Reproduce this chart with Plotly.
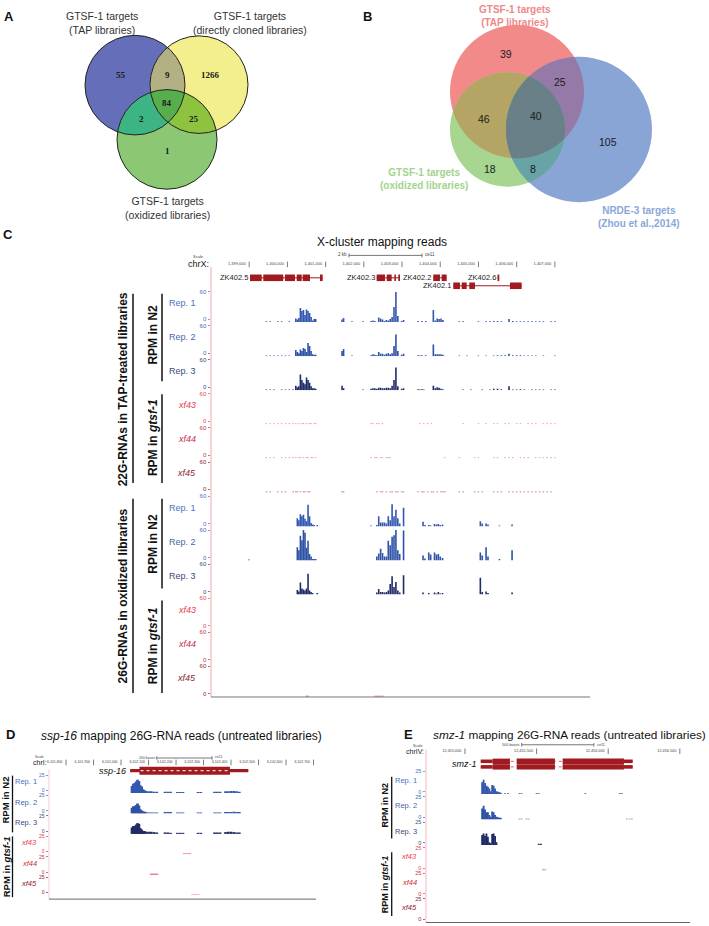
import numpy as np
import plotly.graph_objects as go

W, H = 709, 926
FONT = "Liberation Sans, Arial, Helvetica, sans-serif"
SERIF = "Liberation Serif, Times New Roman, serif"

# ======================= DATA =======================
# Venn region order: only1, only2, only3, 1&2, 1&3, 2&3, 1&2&3
A_SET_LABELS = ["GTSF-1 targets<br>(TAP libraries)",
                "GTSF-1 targets<br>(directly cloned libraries)",
                "GTSF-1 targets<br>(oxidized libraries)"]
A_COUNTS = [55, 1266, 1, 9, 2, 25, 84]

B_SET_LABELS = ["GTSF-1 targets<br>(TAP libraries)",
                "GTSF-1 targets<br>(oxidized libraries)",
                "NRDE-3 targets<br>(Zhou et al.,2014)"]
B_COUNTS = [39, 18, 105, 46, 25, 8, 40]

TRACK_NAMES = ["Rep. 1", "Rep. 2", "Rep. 3", "xf43", "xf44", "xf45"]

# ---- Panel C (chrX, bp) ----
C_RULER = [1399000, 1400000, 1401000, 1402000, 1403000, 1404000, 1405000, 1406000, 1407000]
C_GENES = ["ZK402.5", "ZK402.3", "ZK402.2", "ZK402.6", "ZK402.1"]
C_GENE_EXONS = [
    [(1399021, 1399327), (1399369, 1399892), (1399937, 1400198), (1400243, 1400374), (1400400, 1400591), (1400853, 1400923)],
    [(1402336, 1402554), (1402598, 1402729), (1402800, 1402841), (1402902, 1402946)],
    [(1403818, 1403993), (1404037, 1404168)],
    [(1405500, 1405545)],
    [(1404341, 1404516), (1404561, 1404692), (1404760, 1404909), (1405825, 1406131)],
]
C_GENE_ROW = [0, 0, 0, 0, 1]

C22_POS = [1399450, 1399550, 1399650, 1399750, 1399850, 1399950, 1400050, 1400150,
           1400220, 1400260, 1400300, 1400340, 1400380, 1400420, 1400460, 1400500, 1400540, 1400580,
           1400620, 1400660, 1400700, 1400740, 1400780,
           1401430, 1401470, 1401690, 1401980,
           1402190, 1402240, 1402290, 1402340, 1402390, 1402440, 1402490, 1402540, 1402590, 1402640,
           1402690, 1402740, 1402790, 1402840, 1402890, 1402940, 1402990, 1403040,
           1403420, 1403470, 1403520, 1403570, 1403620, 1403670, 1403720, 1403770, 1403820, 1403870,
           1403920, 1403970, 1404020, 1404070, 1404120,
           1404500, 1404600, 1404700, 1404800, 1404900, 1405000, 1405100, 1405200, 1405300, 1405400,
           1405500, 1405600, 1405700, 1405800, 1405900, 1406000, 1406100, 1406200, 1406300, 1406400,
           1406500, 1406600, 1406700, 1406800, 1406900, 1407000]
C22_REP1 = [1.5, 1.5, 0, 1.5, 1.5, 0, 1.5, 0,
            7, 5, 8, 28, 22, 24, 14, 25, 22, 18, 10, 3, 6, 6, 0,
            5, 8, 1.5, 1.5,
            2, 3, 2, 0, 9, 7, 5, 2, 4, 3, 6, 10, 30, 60, 12, 0, 2, 4,
            2, 0, 2, 0, 2, 0, 0, 0, 24, 3, 7, 6, 7, 4, 0,
            1.5, 1.5, 0, 0, 0, 1.5, 0, 1.5, 1.5, 2, 2, 1.5, 0, 6, 2, 1.5, 1.5, 1.5, 1.5, 1.5, 1.5, 1.5, 1.5, 0, 1.5, 1.5]
C22_REP2 = [1.5, 1.5, 1.5, 1.5, 1.5, 1.5, 1.5, 0,
            12, 8, 6, 13, 10, 16, 14, 8, 26, 20, 10, 4, 3, 3, 0,
            10, 14, 1.5, 0,
            2, 4, 3, 2, 8, 5, 5, 3, 5, 6, 4, 6, 20, 43, 10, 0, 3, 5,
            2, 1.5, 2, 0, 2, 0, 0, 0, 23, 4, 4, 4, 4, 3, 0,
            1.5, 0, 1.5, 0, 0, 1.5, 0, 1.5, 0, 1.5, 2, 2, 2, 5, 2, 2, 2, 1.5, 1.5, 1.5, 1.5, 0, 1.5, 0, 0, 1.5]
C22_REP3 = [1.5, 1.5, 1.5, 0, 1.5, 1.5, 1.5, 1.5,
            9, 6, 8, 31, 20, 15, 12, 25, 20, 15, 8, 4, 4, 3, 0,
            9, 4, 0, 1.5,
            3, 4, 4, 3, 5, 5, 4, 4, 5, 5, 4, 9, 20, 45, 8, 0, 3, 4,
            2, 1.5, 2, 1.5, 0, 0, 0, 0, 9, 4, 6, 5, 3, 2, 0,
            0, 1.5, 0, 1.5, 0, 0, 1.5, 0, 1.5, 3, 3, 2, 0, 8, 1.5, 1.5, 2, 1.5, 0, 1.5, 1.5, 1.5, 1.5, 0, 1.5, 1.5]
C22_XF43 = [1.5, 1.5, 1.5, 1.5, 1.5, 1.5, 1.5, 1.5,
            1.5, 0, 1.5, 0, 1.5, 1.5, 0, 1.5, 0, 1.5, 1.5, 0, 1.5, 1.5, 0,
            0, 0, 0, 0,
            1.5, 1.5, 0, 1.5, 1.5, 0, 1.5, 0, 0, 0, 0, 0, 0, 0, 0, 0, 0, 0,
            0, 1.5, 0, 1.5, 0, 1.5, 0, 1.5, 0, 0, 0, 0, 0, 0, 0,
            0, 1.5, 0, 0, 0, 1.5, 0, 1.5, 0, 1.5, 1.5, 0, 1.5, 1.5, 0, 1.5, 1.5, 0, 1.5, 1.5, 1.5, 0, 1.5, 1.5, 1.5, 1.5]
C22_XF44 = [1.5, 1.5, 1.5, 0, 1.5, 1.5, 1.5, 1.5,
            1.5, 0, 1.5, 1.5, 0, 1.5, 0, 1.5, 1.5, 0, 1.5, 1.5, 0, 1.5, 0,
            0, 0, 0, 0,
            1.5, 0, 1.5, 1.5, 0, 1.5, 1.5, 0, 1.5, 1.5, 1.5, 0, 0, 0, 0, 0, 0, 0,
            0, 0, 0, 0, 0, 0, 0, 0, 0, 0, 0, 0, 0, 0, 1.5,
            1.5, 0, 0, 0, 1.5, 1.5, 0, 0, 0, 1.5, 1.5, 0, 1.5, 1.5, 1.5, 0, 1.5, 1.5, 1.5, 0, 1.5, 1.5, 1.5, 1.5, 1.5, 1.5]
C22_XF45 = [1.5, 1.5, 0, 1.5, 1.5, 1.5, 0, 1.5,
            1.5, 1.5, 0, 1.5, 0, 1.5, 1.5, 0, 1.5, 1.5, 0, 0, 0, 0, 0,
            1.5, 1.5, 0, 0,
            0, 0, 0, 1.5, 0, 1.5, 1.5, 0, 1.5, 0, 1.5, 1.5, 0, 1.5, 1.5, 0, 1.5, 1.5,
            1.5, 0, 1.5, 1.5, 0, 1.5, 0, 1.5, 1.5, 0, 1.5, 0, 1.5, 1.5, 1.5,
            1.5, 1.5, 0, 0, 1.5, 1.5, 1.5, 0, 0, 1.5, 1.5, 1.5, 0, 1.5, 1.5, 1.5, 1.5, 1.5, 1.5, 1.5, 1.5, 1.5, 1.5, 1.5, 1.5, 0]

C26_POS = [1398990,
           1400260, 1400300, 1400340, 1400380, 1400420, 1400460, 1400500, 1400540, 1400580, 1400620,
           1400660, 1400700, 1400740, 1400780,
           1402190, 1402240, 1402290, 1402340, 1402390, 1402440, 1402490, 1402540, 1402590, 1402640,
           1402690, 1402740, 1402790, 1402840, 1402890, 1402940, 1402990, 1403040,
           1403550, 1403600, 1403700, 1403750, 1403850, 1403900, 1403950, 1404000, 1404060,
           1405050, 1405100, 1405200, 1405250, 1405550, 1405880]
C26_REP1 = [0,
            16, 12, 24, 20, 23, 15, 10, 43, 20, 7, 4, 3, 0, 3,
            2, 0, 0, 3, 20, 8, 8, 8, 6, 20, 12, 44, 20, 33, 16, 6, 0, 37,
            9, 3, 3, 2, 5, 4, 5, 3, 4,
            10, 6, 6, 4, 2, 4]
C26_REP2 = [2,
            26, 20, 49, 40, 60, 55, 25, 39, 13, 8, 3, 3, 3, 0,
            0, 0, 0, 8, 14, 23, 15, 8, 8, 39, 30, 47, 50, 60, 20, 13, 0, 59,
            10, 4, 16, 12, 16, 12, 13, 8, 5,
            16, 10, 26, 8, 3, 20]
C26_REP3 = [0,
            9, 6, 24, 12, 10, 8, 12, 41, 8, 5, 3, 0, 0, 3,
            0, 0, 0, 4, 11, 5, 5, 4, 5, 8, 21, 36, 15, 25, 8, 4, 0, 38,
            4, 0, 3, 0, 4, 2, 5, 2, 3,
            33, 5, 6, 3, 0, 4]
C26_MUT_POS = [1400500, 1400540, 1402290, 1402340, 1402390, 1402440, 1402490]
C26_XF43 = [0, 0, 0, 0, 0, 0, 0]
C26_XF44 = [0, 0, 0, 0, 0, 0, 0]
C26_XF45 = [2, 2, 2, 2, 2, 2, 2]

# ---- Panel D (chrI, bp) ----
D_RULER = [6101800, 6101900, 6102000, 6102100, 6102200, 6102300, 6102400, 6102500, 6102600, 6102700]
D_GENE = "ssp-16"
D_GENE_UTR = (6102033, 6102463)
D_GENE_CDS = (6102067, 6102396)
D_POS = [6102040, 6102045, 6102050, 6102055, 6102060, 6102065, 6102070, 6102075, 6102080, 6102085, 6102090,
         6102100, 6102110, 6102120, 6102130, 6102160, 6102170, 6102180, 6102205, 6102215, 6102225,
         6102280, 6102290, 6102340, 6102350, 6102360, 6102380, 6102390, 6102400, 6102410, 6102420, 6102430]
D_REP1 = [10, 13, 14, 16, 18.5, 17, 11, 9, 5.5, 4, 3,
          2.5, 2.5, 2, 2, 2, 2, 2, 1.5, 1.5, 1.5, 1.5, 1.5, 2, 2, 2, 2.5, 2.5, 3, 3, 2.5, 2]
D_REP2 = [8, 10, 10, 12, 14, 11, 6, 4, 3, 2.5, 2,
          1.5, 1.5, 1.5, 1.5, 2, 2, 2, 1.5, 1.5, 1.5, 1.5, 1.5, 1.5, 1.5, 1.5, 2, 2, 2, 2.5, 2, 2]
D_REP3 = [9, 11, 11, 13, 15, 14, 8, 6, 4, 4, 3,
          3, 3, 2.5, 2, 2, 2, 1.5, 1.5, 1.5, 1.5, 1.5, 1.5, 2, 2, 2, 2.5, 3, 3, 2.5, 2, 2]
D_MUT_POS = [6102110, 6102120, 6102130, 6102230, 6102240, 6102250, 6102260, 6102270, 6102280]
D_XF43 = [0, 0, 0, 1.5, 1.5, 1.5, 0, 0, 0]
D_XF44 = [1.5, 1.5, 1.5, 0, 0, 0, 0, 0, 0]
D_XF45 = [0, 0, 0, 0, 0, 0, 1.2, 1.2, 1.2]

# ---- Panel E (chrIV, bp) ----
E_RULER = [12455000, 12455500, 12456000, 12456500]
E_GENE = "smz-1"
E_GENE_UTR5 = (12455110, 12455193)
E_GENE_EXONS = [(12455193, 12455314), (12455361, 12455628), (12455682, 12456110)]
E_GENE_UTR3 = (12456110, 12456171)
E_POS = [12455120, 12455130, 12455140, 12455150, 12455160, 12455170, 12455180, 12455190, 12455200,
         12455210, 12455220, 12455230, 12455240, 12455250,
         12455280, 12455300, 12455380, 12455395, 12455430, 12455445, 12455500, 12455515, 12455530,
         12455840, 12456080, 12456095, 12456130, 12456150, 12456165]
E_REP1 = [13, 15.6, 12, 9, 8, 6, 3, 9.8, 9, 6, 3, 2.5, 2, 1.5,
          1, 1, 1, 1, 0, 0, 1, 1, 0, 1, 1, 1, 0, 0, 0]
E_REP2 = [12, 15, 11, 8, 8, 5, 3, 8.7, 8, 5, 3, 2.5, 2, 2,
          0, 0, 1, 1, 1, 1, 0, 0, 0, 0, 0, 0, 1, 1, 1]
E_REP3 = [11, 12.7, 10, 12.7, 9, 3, 2, 12, 12.7, 10, 3, 0, 0, 0,
          0, 0, 0, 0, 0, 0, 0, 1.5, 1.5, 0, 0, 0, 0, 0, 0]
E_MUT_POS = [12455545, 12455560]
E_XF43 = [1.5, 1.5]
E_XF44 = [0, 0]
E_XF45 = [0, 0]

# ======================= STYLE =======================
REP_BAR = ["#3458b0", "#2e52a6", "#1f2c68"]
REP_TXT = ["#4c72c2", "#4a66a6", "#3d4a7a"]
MUT_TXT = ["#e8404c", "#c8303c", "#8e2230"]
MUT_BAR = ["#e8606e", "#d45a68", "#c0505e"]
GENE_COL = "#a01a1f"
AXIS_PINK = "#f2a7ad"

fig = go.Figure()
shapes, annotations = [], []
layout = dict(width=W, height=H, autosize=False,
              margin=dict(l=0, r=0, t=0, b=0, pad=0),
              paper_bgcolor="white", plot_bgcolor="rgba(0,0,0,0)",
              showlegend=False, font=dict(family=FONT, color="#222"))
layout["xaxis"] = dict(domain=[0, 1], range=[0, W], visible=False, fixedrange=True)
layout["yaxis"] = dict(domain=[0, 1], range=[H, 0], visible=False, fixedrange=True)
axn = [1]


def new_axes(xdom, ydom, xrange, yrange, ycfg=None):
    axn[0] += 1
    n = axn[0]
    layout[f"xaxis{n}"] = dict(domain=[xdom[0] / W, xdom[1] / W], range=xrange,
                               anchor=f"y{n}", visible=False, fixedrange=True)
    yc = dict(domain=[1 - ydom[1] / H, 1 - ydom[0] / H], range=yrange, anchor=f"x{n}",
              fixedrange=True, showgrid=False, zeroline=False, showline=False)
    if ycfg:
        yc.update(ycfg)
    else:
        yc["visible"] = False
    layout[f"yaxis{n}"] = yc
    return f"x{n}", f"y{n}"


def ann(x, y, text, size, color="#222", xanchor="center", yanchor="middle", angle=0,
        family=FONT, xref="x", yref="y", xshift=0):
    annotations.append(dict(x=x, y=y, text=text, xref=xref, yref=yref, showarrow=False,
                            xanchor=xanchor, yanchor=yanchor, textangle=angle, xshift=xshift,
                            font=dict(size=size, color=color, family=family), borderpad=0))


def line(x0, y0, x1, y1, color, width, xref="x", yref="y", dash=None):
    ln = dict(color=color, width=width)
    if dash:
        ln["dash"] = dash
    shapes.append(dict(type="line", x0=x0, y0=y0, x1=x1, y1=y1, xref=xref, yref=yref, line=ln))


def rect(x0, y0, x1, y1, color, xref="x", yref="y"):
    shapes.append(dict(type="rect", x0=x0, y0=y0, x1=x1, y1=y1, xref=xref, yref=yref,
                       fillcolor=color, line=dict(width=0)))


def region_path(circles, idx):
    pts = []
    for i in idx:
        cx, cy, r = circles[i]
        t = np.linspace(0, 2 * np.pi, 721)
        x, y = cx + r * np.cos(t), cy + r * np.sin(t)
        m = np.ones_like(x, dtype=bool)
        for j in idx:
            if j != i:
                c2x, c2y, r2 = circles[j]
                m &= (x - c2x) ** 2 + (y - c2y) ** 2 <= r2 ** 2 + 1e-6
        pts.append(np.c_[x[m], y[m]])
    P = np.vstack(pts)
    c = P.mean(axis=0)
    P = P[np.argsort(np.arctan2(P[:, 1] - c[1], P[:, 0] - c[0]))]
    return "M " + " L ".join(f"{a:.2f},{b:.2f}" for a, b in P) + " Z"


def venn(circles, cols, counts, num_pos, outline, nfont, nsize, ncolor, bold):
    for (cx, cy, r), col in zip(circles, cols[:3]):
        shapes.append(dict(type="circle", x0=cx - r, x1=cx + r, y0=cy - r, y1=cy + r,
                           xref="x", yref="y", fillcolor=col, line=dict(width=0)))
    for idx, col in zip([(0, 1), (0, 2), (1, 2), (0, 1, 2)], cols[3:]):
        shapes.append(dict(type="path", path=region_path(circles, idx), xref="x", yref="y",
                           fillcolor=col, line=dict(width=0)))
    if outline:
        for (cx, cy, r) in circles:
            shapes.append(dict(type="circle", x0=cx - r, x1=cx + r, y0=cy - r, y1=cy + r,
                               xref="x", yref="y", fillcolor="rgba(0,0,0,0)",
                               line=dict(width=1, color="#222")))
    for cnt, (x, y) in zip(counts, num_pos):
        t = f"<b>{cnt}</b>" if bold else str(cnt)
        ann(x, y, t, nsize, ncolor, family=nfont)


# ======================= PANEL A =======================
A_CIRCLES = [(135, 82.5, 50), (199, 82, 49), (167, 137, 50)]
A_COLS = ["#646eb9", "#f2ef8c", "#8cc873", "#b3b083", "#3db483", "#8dc33e", "#58ae4d"]
A_NUM_POS = [(121, 72), (210, 72), (167, 149), (167, 72), (141, 117), (194, 116), (167, 100)]
venn(A_CIRCLES, A_COLS, A_COUNTS, A_NUM_POS, True, SERIF, 9, "#1a1a1a", True)
for lab, (x, y) in zip(A_SET_LABELS, [(102, 20), (250, 20), (167, 206)]):
    ann(x, y, lab, 10.5, "#333")
ann(9, 14, "<b>A</b>", 13, "#111")

# ======================= PANEL B =======================
B_CIRCLES = [(517, 89, 67), (507.5, 127, 57.5), (579, 127, 73)]
B_COLS = ["#f28a8a", "#a6d690", "#88a5d6", "#b5a564", "#957aa8", "#68a3a6", "#6a8088"]
B_NUM_POS = [(506, 51), (490, 167), (608, 140), (484, 116), (560, 79), (533, 167), (536, 113)]
venn(B_CIRCLES, B_COLS, B_COUNTS, B_NUM_POS, False, FONT, 10.5, "#1a1a1a", False)
for lab, (x, y), col in zip(B_SET_LABELS, [(515, 13), (424, 177), (639, 215)],
                            ["#f08888", "#a3d38d", "#8aa8d8"]):
    ann(x, y, f"<b>{lab.replace('<br>', '</b><br><b>')}</b>", 10, col)
ann(367, 14, "<b>B</b>", 13, "#111")


# ======================= TRACK PANELS =======================
def track_panel(xdom, xrange, tops, height, ymax, zero_frac, series, names_x, lab_off,
                lab_size, tick_size):
    for i, (pos, vals, bcol, tcol, italic, bw) in enumerate(series):
        top = tops[i]
        ycfg = dict(visible=True, tickmode="array", tickvals=[ymax * zero_frac, ymax],
                    ticktext=["0", str(ymax)], ticks="outside", ticklen=2.5, tickwidth=0.7,
                    tickcolor=tcol, tickfont=dict(size=tick_size, color=tcol, family=FONT),
                    showticklabels=True)
        xa, ya = new_axes(xdom, (top, top + height), xrange, [0, ymax], ycfg)
        fig.add_trace(go.Bar(x=pos, y=vals, width=bw, xaxis=xa, yaxis=ya,
                             marker=dict(color=bcol, line=dict(width=0)),
                             hoverinfo="skip", showlegend=False))
        name = TRACK_NAMES[i]
        ann(names_x, top + lab_off, f"<i>{name}</i>" if italic else name, lab_size, tcol,
            xanchor="right")


def header_axes(xdom, xrange):
    return new_axes(xdom, (0, H), xrange, [H, 0])


def ruler(xa, ya, ticks, y, size, color="#444"):
    fig.add_trace(go.Scatter(x=ticks, y=[y] * len(ticks), mode="markers+text",
                             text=[f"{t:,}" for t in ticks], textposition="middle left",
                             textfont=dict(size=size, color=color, family=FONT),
                             marker=dict(symbol="line-ns", size=4, line=dict(width=0.7, color=color)),
                             xaxis=xa, yaxis=ya, hoverinfo="skip", showlegend=False, cliponaxis=False))


# ---------------- Panel C ----------------
C_XDOM = (211, 590)
C_XRANGE = [1398000, 1407920]
C_TOPS = [290 + 34.2 * i for i in range(12)]
ann(8, 232, "<b>C</b>", 13, "#111")
ann(382, 240, "X-cluster mapping reads", 12, "#111")
cx_, cy_ = header_axes(C_XDOM, C_XRANGE)
ruler(cx_, cy_, C_RULER, 262.5, 4)
ann(210, 262.5, "chrX:", 9, "#222", xanchor="right")
ann(205, 255, "Scale", 4, "#444", xanchor="right")
line(1401611, 253.5, 1403522, 253.5, "#555", 0.8, xref=cx_)
line(1401611, 251.5, 1401611, 255.5, "#555", 0.8, xref=cx_)
line(1403522, 251.5, 1403522, 255.5, "#555", 0.8, xref=cx_)
ann(1401611, 253, "2 kb", 4.5, "#444", xanchor="right", xref=cx_, xshift=-1)
ann(1403522, 252.5, "ce11", 4.5, "#444", xanchor="left", xref=cx_, xshift=2)
ROW_Y = [276, 284]
for name, exons, row in zip(C_GENES, C_GENE_EXONS, C_GENE_ROW):
    y = ROW_Y[row]
    line(exons[0][0], y, exons[-1][1], y, GENE_COL, 1, xref=cx_)
    for s, e in exons:
        rect(s, y - 3.3, e, y + 3.3, GENE_COL, xref=cx_)
    ann(exons[0][0], y, name, 7.5, "#222", xanchor="right", xref=cx_, xshift=-1)

c_series = [
    (C22_POS, C22_REP1, REP_BAR[0], REP_TXT[0], False, 42),
    (C22_POS, C22_REP2, REP_BAR[1], REP_TXT[1], False, 42),
    (C22_POS, C22_REP3, REP_BAR[2], REP_TXT[2], False, 42),
    (C22_POS, C22_XF43, MUT_BAR[0], MUT_TXT[0], True, 40),
    (C22_POS, C22_XF44, MUT_BAR[1], MUT_TXT[1], True, 40),
    (C22_POS, C22_XF45, MUT_BAR[2], MUT_TXT[2], True, 40),
]
track_panel(C_XDOM, C_XRANGE, C_TOPS[:6], 30.5, 60, 0.1, c_series, 197, 11.5, 9, 6)
c_series2 = [
    (C26_POS, C26_REP1, REP_BAR[0], REP_TXT[0], False, 42),
    (C26_POS, C26_REP2, REP_BAR[1], REP_TXT[1], False, 42),
    (C26_POS, C26_REP3, REP_BAR[2], REP_TXT[2], False, 42),
    (C26_MUT_POS, C26_XF43, "#d05060", MUT_TXT[0], True, 40),
    (C26_MUT_POS, C26_XF44, "#d05060", MUT_TXT[1], True, 40),
    (C26_MUT_POS, C26_XF45, "#c04858", MUT_TXT[2], True, 40),
]
track_panel(C_XDOM, C_XRANGE, C_TOPS[6:], 30.5, 60, 0.1, c_series2, 197, 11.5, 9, 6)
line(211, 265, 211, 697, AXIS_PINK, 1)
line(211, 697, 590, 697, "#777", 1)
# group labels
ann(123, 388, "<b>22G-RNAs in TAP-treated libraries</b>", 12, "#111", angle=-90)
line(133, 292, 133, 482, "#111", 1.5)
ann(153, 333, "<b>RPM in N2</b>", 12, "#111", angle=-90)
line(162, 292, 162, 380, "#111", 1.5)
ann(153, 437, "<b>RPM in <i>gtsf-1</i></b>", 12, "#111", angle=-90)
line(162, 393, 162, 482, "#111", 1.5)
ann(123, 596, "<b>26G-RNAs in oxidized libraries</b>", 12, "#111", angle=-90)
line(133, 498, 133, 693, "#111", 1.5)
ann(153, 543, "<b>RPM in N2</b>", 12, "#111", angle=-90)
line(162, 498, 162, 588, "#111", 1.5)
ann(153, 646, "<b>RPM in <i>gtsf-1</i></b>", 12, "#111", angle=-90)
line(162, 600, 162, 693, "#111", 1.5)

# ---------------- Panel D ----------------
D_XDOM = (49, 316)
D_XRANGE = [6101738, 6102709]
D_TOPS = [775.5 + 20.5 * i for i in range(6)]
ann(10, 735, "<b>D</b>", 13, "#111")
ann(181, 736, "<i>ssp-16</i> mapping 26G-RNA reads (untreated libraries)", 12, "#111")
dx_, dy_ = header_axes(D_XDOM, D_XRANGE)
ruler(dx_, dy_, D_RULER, 762.7, 3.5)
ann(48, 762.7, "chrI:", 7, "#222", xanchor="right")
ann(45, 757, "Scale", 3.5, "#444", xanchor="right")
line(6102130, 758.3, 6102331, 758.3, "#555", 0.8, xref=dx_)
line(6102130, 756.5, 6102130, 760, "#555", 0.8, xref=dx_)
line(6102331, 756.5, 6102331, 760, "#555", 0.8, xref=dx_)
ann(6102130, 758, "200 bases", 3.5, "#444", xanchor="right", xref=dx_, xshift=-1)
ann(6102331, 757.5, "ce11", 3.5, "#444", xanchor="left", xref=dx_, xshift=2)
rect(D_GENE_UTR[0], 769.3, D_GENE_UTR[1], 772.7, GENE_COL, xref=dx_)
rect(D_GENE_CDS[0], 767, D_GENE_CDS[1], 775, GENE_COL, xref=dx_)
line(D_GENE_CDS[0] + 4, 771, D_GENE_CDS[1] - 4, 771, "#f3d6d6", 1.2, xref=dx_, dash="dot")
ann(D_GENE_UTR[0], 771, f"<i>{D_GENE}</i>", 9, "#111", xanchor="right", xref=dx_, xshift=-3)
d_series = [
    (D_POS, D_REP1, REP_BAR[0], REP_TXT[0], False, 10),
    (D_POS, D_REP2, REP_BAR[1], REP_TXT[1], False, 10),
    (D_POS, D_REP3, REP_BAR[2], REP_TXT[2], False, 10),
    (D_MUT_POS, D_XF43, "#f07a86", MUT_TXT[0], True, 10),
    (D_MUT_POS, D_XF44, "#c81e32", MUT_TXT[1], True, 10),
    (D_MUT_POS, D_XF45, "#e8a8b6", MUT_TXT[2], True, 10),
]
track_panel(D_XDOM, D_XRANGE, D_TOPS, 18, 25, 0.15, d_series, 38, 6.5, 7.5, 5)
line(49, 770, 49, 900, "#e8c4c8", 0.8)
line(49, 900, 316, 900, "#666", 1)
ann(6, 801, "<b>RPM in N2</b>", 9.5, "#111", angle=-90)
line(12.5, 776, 12.5, 833, "#111", 1.3)
ann(6, 868, "<b>RPM in <i>gtsf-1</i></b>", 9.5, "#111", angle=-90)
line(12.5, 837, 12.5, 898, "#111", 1.3)

# ---------------- Panel E ----------------
E_XDOM = (426, 690)
E_XRANGE = [12454728, 12456571]
E_TOPS = [771.5 + 25.6 * i for i in range(6)]
ann(408, 735, "<b>E</b>", 13, "#111")
ann(707, 735, "<i>smz-1</i> mapping 26G-RNA reads (untreated libraries)", 11.8, "#111",
    xanchor="right")
ex_, ey_ = header_axes(E_XDOM, E_XRANGE)
ruler(ex_, ey_, E_RULER, 751.5, 3.8)
ann(425, 751.5, "chrIV:", 7, "#222", xanchor="right")
ann(424, 746, "Scale", 3.8, "#444", xanchor="right")
line(12455396, 745, 12455900, 745, "#555", 0.8, xref=ex_)
line(12455396, 743.2, 12455396, 746.8, "#555", 0.8, xref=ex_)
line(12455900, 743.2, 12455900, 746.8, "#555", 0.8, xref=ex_)
ann(12455396, 745, "500 bases", 3.8, "#444", xanchor="right", xref=ex_, xshift=-1)
ann(12455900, 745, "ce11", 3.8, "#444", xanchor="left", xref=ex_, xshift=2)
for yy in (761.6, 767.2):
    line(E_GENE_UTR5[0], yy, E_GENE_UTR3[1], yy, "#c04048", 0.8, xref=ex_, dash="dot")
    rect(E_GENE_UTR5[0], yy - 1.8, E_GENE_UTR5[1], yy + 1.8, GENE_COL, xref=ex_)
    rect(E_GENE_UTR3[0], yy - 1.8, E_GENE_UTR3[1], yy + 1.8, GENE_COL, xref=ex_)
    for s, e in E_GENE_EXONS:
        rect(s, yy - 2.7, e, yy + 2.7, GENE_COL, xref=ex_)
ann(E_GENE_UTR5[0], 764, f"<i>{E_GENE}</i>", 9, "#111", xanchor="right", xref=ex_, xshift=-3)
e_series = [
    (E_POS, E_REP1, REP_BAR[0], REP_TXT[0], False, 13),
    (E_POS, E_REP2, REP_BAR[1], REP_TXT[1], False, 13),
    (E_POS, E_REP3, REP_BAR[2], REP_TXT[2], False, 13),
    (E_MUT_POS, E_XF43, "#f07a86", MUT_TXT[0], True, 13),
    (E_MUT_POS, E_XF44, "#c81e32", MUT_TXT[1], True, 13),
    (E_MUT_POS, E_XF45, "#e8a8b6", MUT_TXT[2], True, 13),
]
track_panel(E_XDOM, E_XRANGE, E_TOPS, 23, 25, 0.1, e_series, 418, 9, 7.5, 5.5)
line(426, 750, 426, 923.5, AXIS_PINK, 0.8)
line(426, 923.5, 690, 923.5, "#666", 1)
ann(385, 806, "<b>RPM in N2</b>", 9, "#111", angle=-90)
line(391.7, 777, 391.7, 839, "#111", 1.3)
ann(385, 885, "<b>RPM in <i>gtsf-1</i></b>", 9, "#111", angle=-90)
line(391.7, 853, 391.7, 917, "#111", 1.3)

layout["shapes"] = shapes
layout["annotations"] = annotations
fig.update_layout(**layout)
fig.write_html("out.html",
               config={"displayModeBar": False, "staticPlot": True},
               post_script="document.body.style.margin='0';document.body.style.padding='0';"
                           "document.body.style.overflow='hidden';")
